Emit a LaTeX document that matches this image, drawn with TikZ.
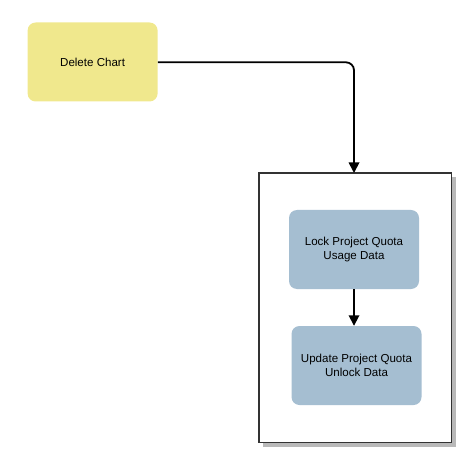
\documentclass[tikz,border=0pt]{standalone}
\usepackage{fontspec}
\setmainfont{Liberation Sans}
\usetikzlibrary{arrows.meta,shadows}
\definecolor{chartyellow}{RGB}{240,232,141}
\definecolor{stepblue}{RGB}{165,190,209}
\definecolor{framegray}{RGB}{51,51,51}
\definecolor{shadowgray}{RGB}{185,185,185}
\begin{document}
\begin{tikzpicture}[x=1bp,y=-1bp,
  procbox/.style={rounded corners=8bp, minimum width=130bp, minimum height=79bp,
    inner sep=0pt, align=center, font=\fontsize{11.6}{13.4}\selectfont},
  conn/.style={line width=1.8bp, -{Triangle[width=10.5bp,length=10.5bp]}, rounded corners=8bp},
  frame/.style={draw=framegray, line width=1.6bp, fill=white, minimum width=192.5bp,
    minimum height=269.5bp, inner sep=0pt,
    drop shadow={shadow xshift=4bp, shadow yshift=-4bp, fill=shadowgray, opacity=1}}]
\useasboundingbox (0,0) rectangle (471,463);
\node[procbox, fill=chartyellow] (del) at (92.6,62) {Delete Chart};
\node[frame] (outer) at (355.25,307.75) {};
\node[procbox, fill=stepblue] (lock) at (354,249.5) {Lock Project Quota\\Usage Data};
\node[procbox, fill=stepblue] (upd) at (356.5,365.5) {Update Project Quota\\Unlock Data};
\coordinate (otop) at (354,173);
\draw[conn] (del.east |- 0,62.3) -| (otop);
\draw[conn] (lock.south) -- (lock.south |- upd.north);
\end{tikzpicture}
\end{document}
